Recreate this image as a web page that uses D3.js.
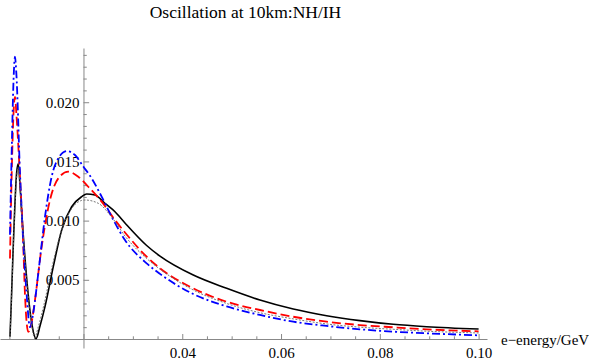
<!DOCTYPE html>
<html><head><meta charset="utf-8">
<script src="https://cdn.jsdelivr.net/npm/d3@7"></script>
<style>body{margin:0;background:#fff}svg{display:block}</style>
</head><body>
<svg id="chart" width="589" height="361"></svg>
<script>
const titleText = "Oscillation at 10km:NH/IH";
const xAxisLabel = "e\u2212energy/GeV";
const xMajorTicks = [0.02, 0.04, 0.06, 0.08, 0.10];
const xMinorTicks = [0.005, 0.01, 0.015, 0.025, 0.03, 0.035, 0.045, 0.05, 0.055, 0.065, 0.07, 0.075, 0.085, 0.09, 0.095];
const yMajorTicks = [0.005, 0.010, 0.015, 0.020];
const yMinorTicks = [0.001,0.002,0.003,0.004,0.006,0.007,0.008,0.009,0.011,0.012,0.013,0.014,0.016,0.017,0.018,0.019,0.021,0.022,0.023,0.024];

// Black solid
const blackX = [0.00512,0.00532,0.00579,0.00648,0.0068,0.00715,0.00749,0.0085,0.0095,0.0104,0.0112,0.01221,0.01389,0.01559,0.01761,0.01964,0.02065,0.02233,0.02435,0.02638,0.0284,0.03279,0.03549,0.04223,0.04899,0.05573,0.06247,0.06923,0.07597,0.08271,0.08947,0.1];
const blackY = [0.0002,0.0023,0.0079,0.0141,0.0148,0.0130,0.01075,0.00513,0.0014,0.00003,0.0011,0.00273,0.00611,0.00921,0.01117,0.01202,0.01225,0.01216,0.01146,0.01075,0.0098,0.0079,0.0070,0.0054,0.00428,0.00329,0.00253,0.00197,0.00155,0.00124,0.00104,0.00084];
// Gray dotted
const grayX = [0.00512,0.0054,0.0058,0.0065,0.0068,0.00715,0.0075,0.0085,0.0095,0.0101,0.0109,0.012,0.0137,0.0155,0.0176,0.0196,0.0203,0.023,0.02571,0.0284,0.03279,0.03549,0.04223,0.04899,0.05573,0.06247,0.06923,0.07597,0.08271,0.08947,0.1];
const grayY = [0.0003,0.003,0.0078,0.0138,0.0145,0.0128,0.0105,0.0049,0.0012,0.0001,0.0011,0.0029,0.0062,0.0091,0.011,0.0117,0.01174,0.01146,0.0103,0.0087,0.0068,0.0059,0.00414,0.003,0.00222,0.0017,0.00127,0.001,0.00082,0.00066,0.00051];
// Red dashed
const redX = [0.00512,0.00545,0.0059,0.00613,0.00645,0.00715,0.00781,0.00816,0.00883,0.0095,0.01018,0.01154,0.01322,0.0149,0.01692,0.01895,0.02097,0.02368,0.02638,0.0284,0.0328,0.03549,0.04223,0.04899,0.05573,0.06247,0.06923,0.07597,0.08271,0.08947,0.1];
const redY = [0.0068,0.0136,0.0196,0.02046,0.0188,0.0136,0.00794,0.00372,0.0006,0.0014,0.00329,0.0078,0.01174,0.01357,0.01413,0.01371,0.01286,0.0116,0.01005,0.0090,0.00695,0.00597,0.00428,0.00315,0.00245,0.00188,0.00146,0.00118,0.00099,0.00082,0.00065];
// Blue dot-dashed
const blueX = [0.00512,0.00545,0.0059,0.00613,0.0064,0.00715,0.00781,0.0085,0.00917,0.0099,0.01085,0.01221,0.01356,0.0149,0.0166,0.01828,0.02,0.02166,0.02368,0.02571,0.0284,0.03279,0.03549,0.04223,0.04899,0.05573,0.06247,0.06923,0.07597,0.08271,0.08947,0.1];
const blueY = [0.0088,0.0155,0.0225,0.02384,0.0225,0.014,0.0082,0.00372,0.001,0.0024,0.00555,0.01033,0.01371,0.01526,0.01588,0.01554,0.01455,0.01357,0.01202,0.01033,0.00836,0.00639,0.0055,0.0038,0.00275,0.00203,0.00146,0.0011,0.00082,0.00062,0.00048,0.00031];

const series = [
  {xs: blackX, ys: blackY, color: "#000000", width: 1.6, dash: null},
  {xs: redX, ys: redY, color: "#ff0000", width: 1.8, dash: "9,4"},
  {xs: blueX, ys: blueY, color: "#0000ff", width: 1.8, dash: "8,3,2,3"},
  {xs: grayX, ys: grayY, color: "#666666", width: 0.9, dash: "2,1.5"}
];

const svg = d3.select("#chart");
const x = d3.scaleLinear().domain([0.0031, 0.1017]).range([0, 487]);
const y = d3.scaleLinear().domain([-0.00076, 0.02458]).range([348, 48]);
const axisColor = "#888888";
const font = "'Liberation Serif','Times New Roman',serif";

// X axis
const gx = svg.append("g").attr("transform", `translate(0,${y(0)})`);
gx.call(d3.axisBottom(x).tickValues(xMinorTicks).tickSize(-2.7).tickSizeOuter(0).tickFormat(""));
const gx2 = svg.append("g").attr("transform", `translate(0,${y(0)})`);
gx2.call(d3.axisBottom(x).tickValues(xMajorTicks).tickSize(-5).tickSizeOuter(0).tickPadding(8.5)
  .tickFormat(d => d === 0.02 ? "" : d3.format(".2f")(d)));
// Y axis
const gy = svg.append("g").attr("transform", `translate(${x(0.02)},0)`);
gy.call(d3.axisLeft(y).tickValues(yMinorTicks).tickSize(-3.3).tickSizeOuter(0).tickFormat(""));
const gy2 = svg.append("g").attr("transform", `translate(${x(0.02)},0)`);
gy2.call(d3.axisLeft(y).tickValues(yMajorTicks).tickSize(-5.7).tickSizeOuter(0).tickPadding(4)
  .tickFormat(d3.format(".3f")));

[gx, gx2, gy, gy2].forEach(g => {
  g.selectAll("path.domain").attr("stroke", axisColor).attr("stroke-width", 1);
  g.selectAll(".tick line").attr("stroke", axisColor).attr("stroke-width", 1);
  g.selectAll(".tick text").attr("fill", "#000").style("font-family", font).style("font-size", "15px");
});
gx.select("path.domain").remove();
gy.select("path.domain").remove();

// Curves
const line = d3.line().x(d => x(d[0])).y(d => y(d[1])).curve(d3.curveMonotoneX);
series.forEach(s => {
  const pts = s.xs.map((v, i) => [v, s.ys[i]]);
  const p = svg.append("path").datum(pts).attr("d", line)
    .attr("fill", "none").attr("stroke", s.color).attr("stroke-width", s.width)
    .attr("stroke-linejoin", "round");
  if (s.dash) p.attr("stroke-dasharray", s.dash);
});

// Title
svg.append("text").attr("x", 245.5).attr("y", 18).attr("text-anchor", "middle")
  .style("font-family", font).style("font-size", "17.5px").attr("fill", "#000").text(titleText);
// X axis label
svg.append("text").attr("x", 501).attr("y", 345).attr("text-anchor", "start")
  .style("font-family", font).style("font-size", "15px").attr("fill", "#000").text(xAxisLabel);
</script>
</body></html>
